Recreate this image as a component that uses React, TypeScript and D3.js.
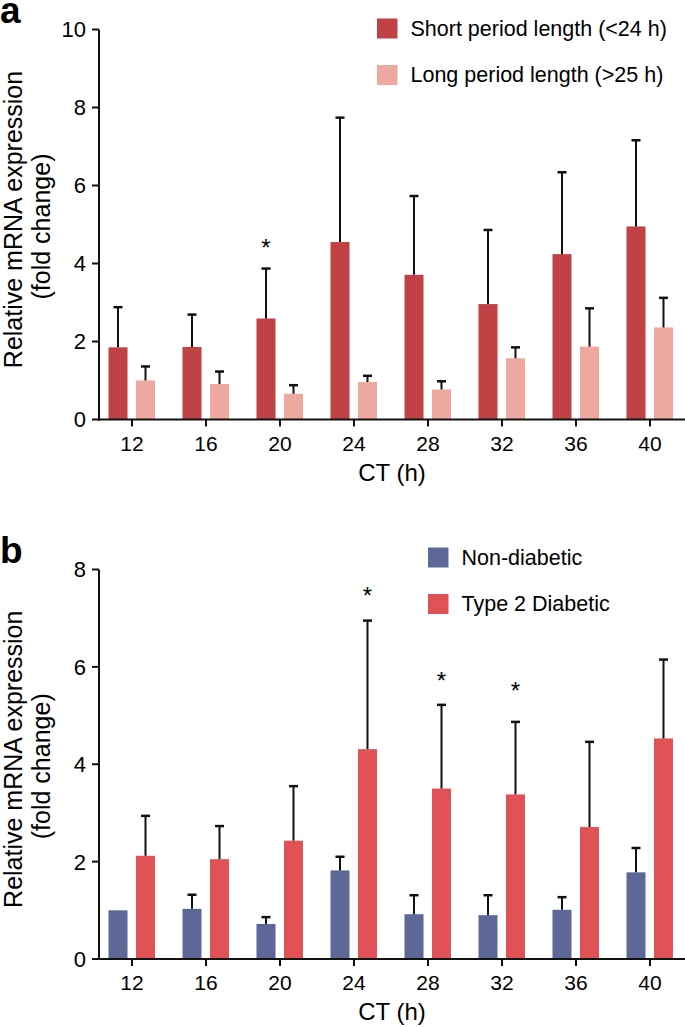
import React from 'react';
import * as d3 from 'd3';

// CT time points (h)
const ctHours = [12, 16, 20, 24, 28, 32, 36, 40];

// panel a
const shortMean = [1.85, 1.86, 2.59, 4.55, 3.71, 2.96, 4.24, 4.95];
const shortSem = [1.03, 0.83, 1.28, 3.19, 2.02, 1.9, 2.1, 2.21];
const longMean = [1.0, 0.91, 0.66, 0.96, 0.77, 1.57, 1.87, 2.36];
const longSem = [0.36, 0.32, 0.22, 0.16, 0.21, 0.28, 0.98, 0.76];
const starsA = [{ ct: 20, series: 0, value: 4.53 }];

// panel b
const nonDiabMean = [1.0, 1.03, 0.72, 1.82, 0.92, 0.9, 1.01, 1.78];
const nonDiabSem = [0, 0.29, 0.14, 0.28, 0.39, 0.41, 0.26, 0.5];
const t2dMean = [2.12, 2.05, 2.43, 4.31, 3.5, 3.38, 2.71, 4.53];
const t2dSem = [0.82, 0.68, 1.12, 2.64, 1.72, 1.49, 1.75, 1.62];
const starsB = [
  { ct: 24, series: 1, value: 7.57 },
  { ct: 28, series: 1, value: 5.83 },
  { ct: 32, series: 1, value: 5.61 },
];

const yTicksA = [0, 2, 4, 6, 8, 10];
const yTicksB = [0, 2, 4, 6, 8];

const FONT = '"Liberation Sans", Arial, Helvetica, sans-serif';
const axisX = 99;
const barW = 19;

interface Series {
  name: string;
  color: string;
  mean: number[];
  sem: number[];
}

interface PanelProps {
  letter: string;
  top: number;
  bottom: number;
  yMax: number;
  yTicks: number[];
  series: Series[];
  stars: { ct: number; series: number; value: number }[];
  legendX: number;
  legendY: number;
}

const xScale = d3.scalePoint<number>().domain(ctHours).range([132, 650]);

const Panel: React.FC<PanelProps> = ({ letter, top, bottom, yMax, yTicks, series, stars, legendX, legendY }) => {
  const yScale = d3.scaleLinear().domain([0, yMax]).range([bottom, top]);
  const offsets = [-14, 13.5];
  const midY = (top + bottom) / 2;

  return (
    <g>
      <text x={0} y={top - 6.5} fontSize={37} fontWeight="bold" fontFamily={FONT}>{letter}</text>

      {/* bars */}
      {series.map((s, si) =>
        ctHours.map((ct, i) => {
          const cx = xScale(ct)! + offsets[si];
          const yv = yScale(s.mean[i]);
          return (
            <rect key={`b${si}-${i}`} x={cx - barW / 2} y={yv} width={barW} height={bottom - yv} fill={s.color} />
          );
        })
      )}

      {/* error bars, upper only */}
      {series.map((s, si) =>
        ctHours.map((ct, i) => {
          if (s.sem[i] <= 0) return null;
          const cx = xScale(ct)! + offsets[si];
          const y0 = yScale(s.mean[i]);
          const y1 = yScale(s.mean[i] + s.sem[i]);
          return (
            <g key={`e${si}-${i}`} stroke="#111">
              <line x1={cx} x2={cx} y1={y0} y2={y1} strokeWidth={2} />
              <line x1={cx - 4.5} x2={cx + 4.5} y1={y1} y2={y1} strokeWidth={2.5} />
            </g>
          );
        })
      )}

      {stars.map((st, i) => (
        <text key={`s${i}`} x={xScale(st.ct)! + offsets[st.series]} y={yScale(st.value) + 13.5}
          fontSize={24} fontFamily={FONT} textAnchor="middle">*</text>
      ))}

      {/* y axis */}
      <line x1={axisX} x2={axisX} y1={top} y2={bottom + 1} stroke="#111" strokeWidth={2} />
      {yTicks.map(t => (
        <g key={`yt${t}`}>
          <line x1={axisX - 7} x2={axisX} y1={yScale(t)} y2={yScale(t)} stroke="#111" strokeWidth={2} />
          <text x={86} y={yScale(t)} dy="0.36em" fontSize={22} fontFamily={FONT} textAnchor="end">{t}</text>
        </g>
      ))}

      {/* x axis */}
      <line x1={axisX - 1} x2={685} y1={bottom} y2={bottom} stroke="#111" strokeWidth={2} />
      {ctHours.map(ct => (
        <g key={`xt${ct}`}>
          <line x1={xScale(ct)} x2={xScale(ct)} y1={bottom} y2={bottom + 7} stroke="#111" strokeWidth={2} />
          <text x={xScale(ct)} y={bottom + 31} fontSize={21} fontFamily={FONT} textAnchor="middle">{ct}</text>
        </g>
      ))}

      <text x={392} y={bottom + 61} fontSize={24} fontFamily={FONT} textAnchor="middle">CT (h)</text>

      <g transform={`translate(22, ${midY - 5}) rotate(-90)`}>
        <text x={0} y={0} fontSize={25} fontFamily={FONT} textAnchor="middle">Relative mRNA expression</text>
      </g>
      <g transform={`translate(50, ${midY + 2}) rotate(-90)`}>
        <text x={0} y={0} fontSize={25} fontFamily={FONT} textAnchor="middle">(fold change)</text>
      </g>

      {/* legend */}
      {series.map((s, si) => (
        <g key={`l${si}`} transform={`translate(${legendX}, ${legendY + si * 46.5})`}>
          <rect x={0} y={0} width={20.5} height={20} fill={s.color} />
          <text x={33.5} y={17} fontSize={21.5} fontFamily={FONT}>{s.name}</text>
        </g>
      ))}
    </g>
  );
};

export default function App() {
  const seriesA: Series[] = [
    { name: 'Short period length (<24 h)', color: '#c14244', mean: shortMean, sem: shortSem },
    { name: 'Long period length (>25 h)', color: '#eda89f', mean: longMean, sem: longSem },
  ];
  const seriesB: Series[] = [
    { name: 'Non-diabetic', color: '#5d6899', mean: nonDiabMean, sem: nonDiabSem },
    { name: 'Type 2 Diabetic', color: '#e05256', mean: t2dMean, sem: t2dSem },
  ];

  return (
    <svg width={685} height={1027} style={{ position: 'absolute', left: 0, top: 0, background: '#fff' }}>
      <rect width={685} height={1027} fill="#fff" />
      <Panel letter="a" top={29.5} bottom={419.5} yMax={10} yTicks={yTicksA} series={seriesA}
        stars={starsA} legendX={377} legendY={18.5} />
      <Panel letter="b" top={569.5} bottom={959} yMax={8} yTicks={yTicksB} series={seriesB}
        stars={starsB} legendX={428} legendY={547.5} />
    </svg>
  );
}
